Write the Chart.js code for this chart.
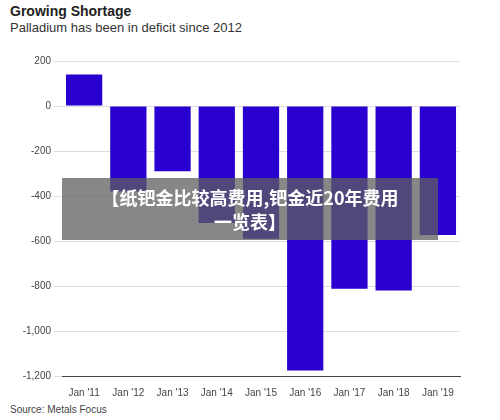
<!DOCTYPE html>
<html><head><meta charset="utf-8">
<script src="https://cdn.jsdelivr.net/npm/chart.js"></script>
<style>
body{margin:0;background:#fff;font-family:"Liberation Sans",Arial,sans-serif;}
#wrap{position:relative;width:500px;height:420px;}
#t{position:absolute;left:10px;top:3px;font-size:14px;font-weight:bold;color:#222;}
#s{position:absolute;left:10px;top:20px;font-size:13px;color:#333;}
#src{position:absolute;left:10px;top:404px;font-size:10px;color:#444;}
#cv{position:absolute;left:0;top:52px;}
#ov{position:absolute;left:62px;top:178px;width:376px;height:62px;background:rgba(95,95,95,0.75);color:#fff;font-family:"Noto Sans CJK SC";font-weight:bold;font-size:18px;text-align:center;line-height:24px;padding-top:7px;box-sizing:border-box;}
</style></head><body>
<div id="wrap">
<div id="t">Growing Shortage</div>
<div id="s">Palladium has been in deficit since 2012</div>
<div id="cv"><canvas id="c" width="480" height="350"></canvas></div>
<div id="src">Source: Metals Focus</div>
<div id="ov">【纸钯金比较高费用,钯金近20年费用<br>一览表】</div>
</div>
<script>
const years = ["Jan '11","Jan '12","Jan '13","Jan '14","Jan '15","Jan '16","Jan '17","Jan '18","Jan '19"];
const balance = [140, -380, -290, -520, -590, -1175, -812, -820, -573];

new Chart(document.getElementById('c'), {
  type: 'bar',
  data: { labels: years, datasets: [{ data: balance, backgroundColor: '#2a00d0', categoryPercentage: 0.82, barPercentage: 1 }] },
  options: {
    responsive: false, animation: false,
    layout: { padding: { left: 0, right: 20, top: 8 } },
    plugins: { legend: { display: false }, tooltip: { enabled: false } },
    scales: {
      x: { grid: { display: false }, border: { color: '#444' },
           ticks: { color: '#444', font: { size: 10 }, maxRotation: 0 } },
      y: { min: -1200, max: 200, grid: { color: '#ddd' }, border: { display: false },
           afterFit: s => { s.width = 62; },
           ticks: { stepSize: 200, color: '#444', font: { size: 10 }, callback: v => v.toLocaleString('en-US') } }
    }
  }
});
</script>
</body></html>
